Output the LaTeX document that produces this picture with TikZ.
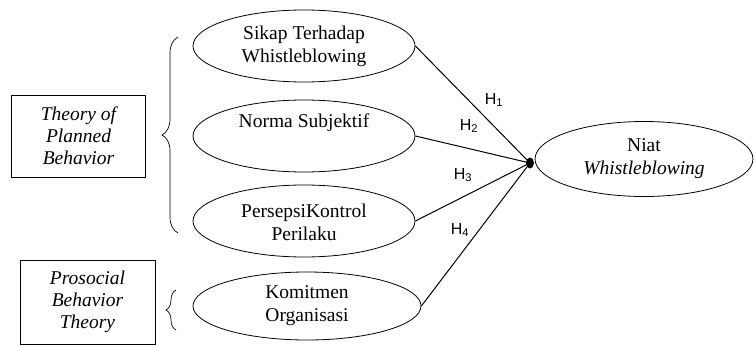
\documentclass[tikz,border=0pt]{standalone}
\usepackage{fontspec}
\setmainfont{Liberation Serif}
\newfontfamily\hsans{Liberation Sans}
\usetikzlibrary{shapes.geometric,decorations.pathreplacing}

\begin{document}
\begin{tikzpicture}[x=1pt, y=-1pt,
  konstruk/.style={draw, ellipse, line width=0.8pt, minimum width=222pt, minimum height=72pt,
    inner sep=0pt, align=center, font=\fontsize{19.5}{23}\selectfont},
  teori/.style={draw, line width=0.8pt, minimum width=134pt, minimum height=82pt,
    inner sep=0pt, align=center, font=\fontsize{19.5}{22}\selectfont\itshape},
  hlabel/.style={font=\hsans\fontsize{16}{18}\selectfont},
  jalur/.style={line width=1pt}]
\useasboundingbox (0,0) rectangle (754,345);

% theory boxes
\node[teori] (tpb) at (78.5,136) {Theory of\\Planned\\Behavior};
\node[teori, minimum width=135pt, minimum height=84pt] (pbt) at (87.5,302) {Prosocial\\Behavior\\Theory};

% braces
\draw[line width=0.7pt, decorate, decoration={brace, amplitude=16pt}] (178,233) -- (178,37) node[coordinate] (kurung1) {};
\draw[line width=0.7pt, decorate, decoration={brace, amplitude=10pt}] (176,330) -- (176,290) node[coordinate] (kurung2) {};

% constructs
\node[konstruk] (sikap) at (304,46) {Sikap Terhadap\\Whistleblowing};
\node[konstruk] (norma) at (304,136) {Norma Subjektif\\[8pt]};
\node[konstruk] (pkp) at (304,221) {\\[-6pt]PersepsiKontrol\\Perilaku};
\node[konstruk, minimum width=228pt, minimum height=68pt] (komit) at (307,306) {Komitmen\\Organisasi};
\node[konstruk, minimum width=218pt, minimum height=75pt] (niat) at (644,159) {Niat\\\textit{Whistleblowing}};

% paths
\node[ellipse, fill, inner sep=0pt, minimum width=8pt, minimum height=11pt] (titik) at (530,163) {};
\draw[jalur] (sikap.east) -- (titik.center);
\draw[jalur] (norma.east) -- (titik.center);
\draw[jalur] (pkp.east) -- (titik.center);
\draw[jalur] (komit.east) -- (titik.center);

\node[hlabel] (h1) at (494,100) {H\textsubscript{1}};
\node[hlabel] (h2) at (469,126) {H\textsubscript{2}};
\node[hlabel] (h3) at (463,175) {H\textsubscript{3}};
\node[hlabel] (h4) at (460,230) {H\textsubscript{4}};
\end{tikzpicture}
\end{document}
